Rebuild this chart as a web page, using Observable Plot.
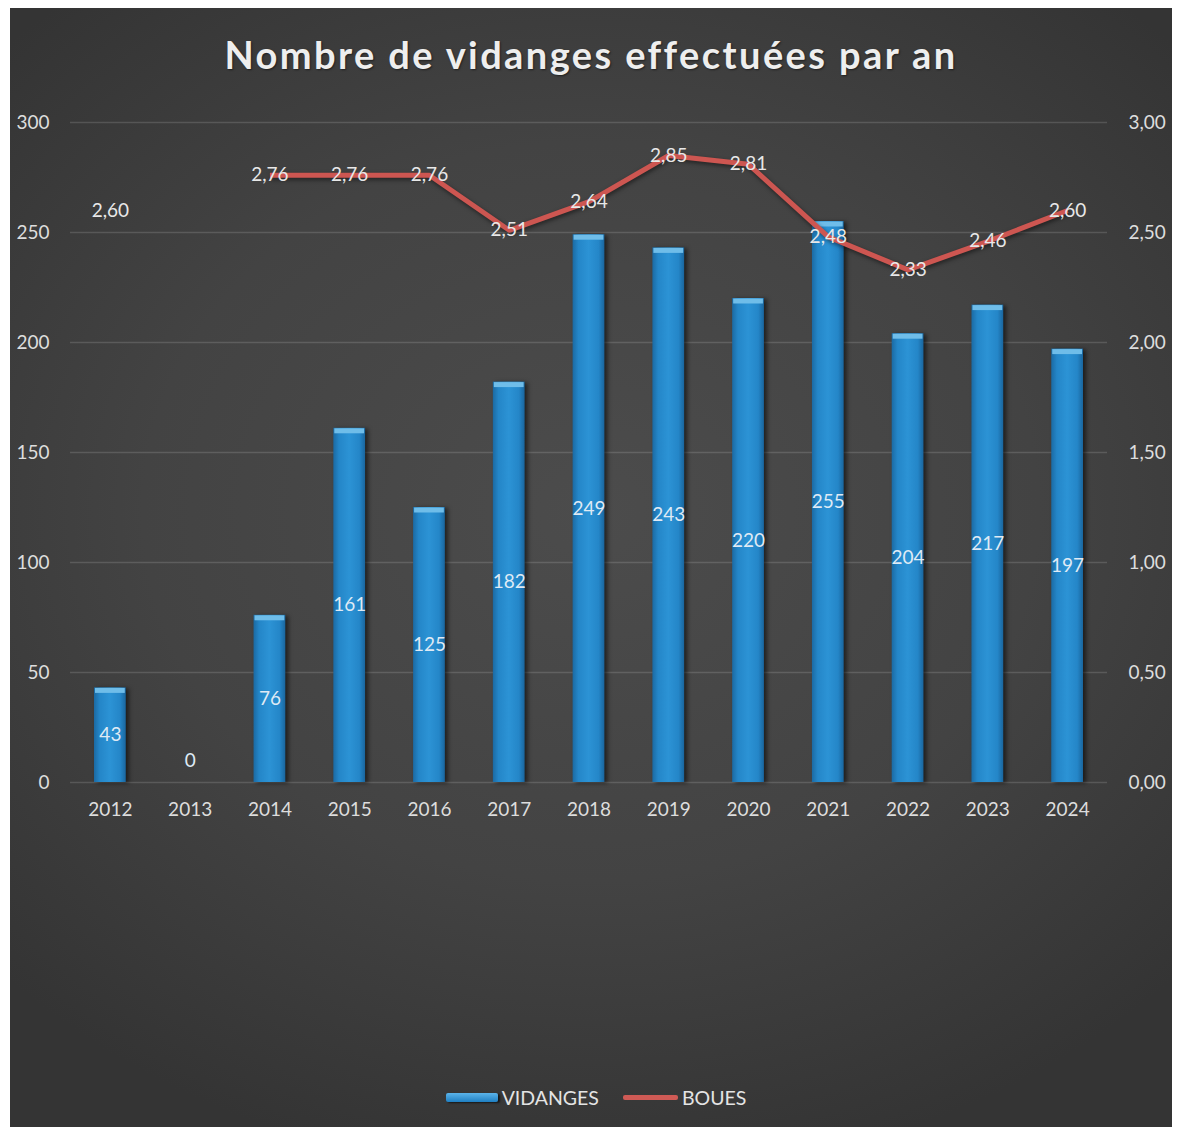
<!DOCTYPE html>
<html>
<head>
<meta charset="utf-8">
<script src="https://cdn.jsdelivr.net/npm/d3@7"></script>
<script src="https://cdn.jsdelivr.net/npm/@observablehq/plot@0.6"></script>
<style>
  html, body { margin: 0; padding: 0; background: #ffffff; }
  #card {
    position: absolute; left: 10px; top: 8px; width: 1162px; height: 1119px;
    background: radial-gradient(ellipse 70% 60% at 50% 45%, #4c4c4c 0%, #434343 55%, #343434 100%);
    font-family: Lato, "Open Sans", sans-serif;
    overflow: hidden;
  }
  #title {
    height: 92px; display: flex; align-items: center; justify-content: center;
    color: #eeeeee; font-weight: 700; font-size: 38px; letter-spacing: 2.4px;
    text-shadow: 1px 1px 2px rgba(0,0,0,0.5);
    padding-left: 0;
  }
  #legend {
    margin-top: 255px; height: 24px; display: flex; align-items: center; justify-content: center;
    color: #e4e4e4; font-size: 19.5px; padding-left: 10px;
  }
  .sw { display: inline-block; margin-right: 4px; }
</style>
</head>
<body>
<div id="card">
  <div id="title">Nombre de vidanges effectuées par an</div>
  <div id="chart"></div>
  <div id="legend">
    <span class="sw" style="width:52px;height:9px;background:linear-gradient(#5bb4ea,#1f7fc2);border-radius:2px;box-shadow:2px 1px 2px rgba(0,0,0,0.6)"></span><span style="margin-right:24px">VIDANGES</span>
    <span class="sw" style="width:55px;height:5px;background:#cf5a55;border-radius:2px"></span><span>BOUES</span>
  </div>
</div>
<script>
const years = ["2012","2013","2014","2015","2016","2017","2018","2019","2020","2021","2022","2023","2024"];
const vidanges = [43, 0, 76, 161, 125, 182, 249, 243, 220, 255, 204, 217, 197];
const boues = [2.60, null, 2.76, 2.76, 2.76, 2.51, 2.64, 2.85, 2.81, 2.48, 2.33, 2.46, 2.60];
const leftTicks = [0, 50, 100, 150, 200, 250, 300];

const data = years.map((y, i) => ({year: y, v: vidanges[i], b: boues[i]}));
const fmtB = d => d.toFixed(2).replace(".", ",");

const chart = Plot.plot({
  width: 1162,
  height: 730,
  marginLeft: 60,
  marginRight: 65,
  marginTop: 22,
  marginBottom: 48,
  style: {background: "transparent", color: "#dddddd", fontFamily: "Lato, 'Open Sans', sans-serif", fontSize: "19px"},
  x: {domain: years, padding: 0, round: false, label: null},
  y: {domain: [0, 300], label: null},
  marks: [
    Plot.gridY(leftTicks, {stroke: "#ffffff", strokeOpacity: 0.14, strokeWidth: 1.5}),
    Plot.axisY(leftTicks, {anchor: "left", tickSize: 0, tickPadding: 21, label: null, fontSize: 19, fill: "#dddddd"}),
    Plot.axisY(leftTicks, {anchor: "right", tickSize: 0, tickPadding: 21, label: null, fontSize: 19, fill: "#dddddd",
      textAnchor: "start", tickFormat: d => fmtB(d / 100)}),
    Plot.axisX({anchor: "bottom", tickSize: 0, tickPadding: 20, label: null, fontSize: 19, fill: "#dddddd"}),
    Plot.barY(data.filter(d => d.v > 0), {x: "year", y: "v", fill: "url(#barGrad)", insetLeft: 24, insetRight: 24,
      className: "bars"}),
    Plot.tickY(data.filter(d => d.v > 0), {x: "year", y: "v", stroke: "#6fbde9", strokeWidth: 5, insetLeft: 25, insetRight: 25, dy: 2.5}),
    Plot.text(data, {x: "year", y: d => Math.max(d.v / 2, 10), text: d => String(d.v), fill: "#dfeaf5", fontSize: 19}),
    Plot.line(data, {x: "year", y: d => d.b == null ? NaN : d.b * 100, stroke: "#cd5651", strokeWidth: 5,
      strokeLinecap: "butt", strokeLinejoin: "round", className: "boues"}),
    Plot.text(data.filter(d => d.b != null), {x: "year", y: d => d.b * 100, text: d => fmtB(d.b), fill: "#e8e8e8", fontSize: 19})
  ]
});

const ns = "http://www.w3.org/2000/svg";
const defs = document.createElementNS(ns, "defs");
defs.innerHTML = `
  <linearGradient id="barGrad" x1="0" y1="0" x2="1" y2="0">
    <stop offset="0" stop-color="#1b6aa3"/>
    <stop offset="0.18" stop-color="#2486c8"/>
    <stop offset="0.5" stop-color="#2c93d5"/>
    <stop offset="0.82" stop-color="#2486c8"/>
    <stop offset="1" stop-color="#1a669e"/>
  </linearGradient>`;
chart.insertBefore(defs, chart.firstChild);
const bars = chart.querySelector(".bars");
if (bars) bars.style.filter = "drop-shadow(3px 1px 2px rgba(0,0,0,0.55))";
const line = chart.querySelector(".boues");
if (line) line.style.filter = "drop-shadow(1px 2px 2px rgba(0,0,0,0.5))";
document.getElementById("chart").appendChild(chart);
</script>
</body>
</html>
